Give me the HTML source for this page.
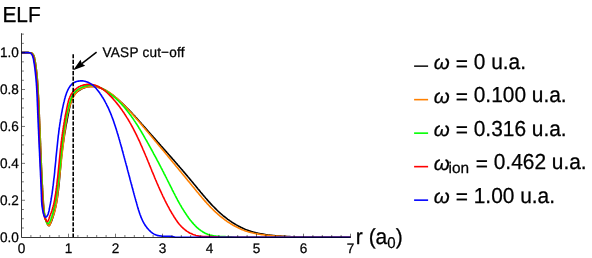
<!DOCTYPE html>
<html><head><meta charset="utf-8"><title>ELF</title>
<style>
html,body{margin:0;padding:0;background:#fff;}
body{width:592px;height:258px;overflow:hidden;font-family:"Liberation Sans",sans-serif;}
svg{display:block;will-change:transform;}
</style></head><body>
<svg width="592" height="258" viewBox="0 0 592 258">
<rect width="592" height="258" fill="#ffffff"/>
<g fill="none" stroke-width="1.6" stroke-linejoin="round" stroke-linecap="butt">
<path stroke="#000000" d="M21.5 52.6 L21.7 52.6 L22.0 52.6 L22.2 52.6 L22.5 52.6 L22.7 52.6 L23.0 52.6 L23.2 52.6 L23.5 52.6 L23.7 52.6 L23.9 52.6 L24.2 52.6 L24.4 52.6 L24.7 52.6 L24.9 52.6 L25.2 52.6 L25.4 52.6 L25.7 52.6 L25.9 52.6 L26.2 52.6 L26.4 52.6 L26.6 52.6 L26.9 52.6 L27.1 52.6 L27.4 52.6 L27.6 52.6 L27.9 52.6 L28.1 52.6 L28.4 52.6 L28.6 52.6 L28.8 52.6 L29.1 52.6 L29.3 52.7 L29.6 52.7 L29.8 52.7 L30.1 52.7 L30.3 52.7 L30.6 52.8 L30.8 52.8 L31.1 52.8 L31.3 52.9 L31.5 53.0 L31.8 53.2 L32.0 53.3 L32.3 53.5 L32.5 53.7 L32.8 54.0 L33.0 54.3 L33.3 54.7 L33.5 55.1 L33.7 55.5 L34.0 56.1 L34.2 56.9 L34.5 57.8 L34.7 58.9 L35.0 60.2 L35.2 61.7 L35.5 63.2 L35.7 64.8 L36.0 66.5 L36.1 67.6 L36.2 68.7 L36.4 69.9 L36.5 71.0 L36.6 72.1 L36.8 73.2 L36.9 74.3 L37.0 75.5 L37.1 76.6 L37.2 77.7 L37.3 78.8 L37.4 80.0 L37.5 81.1 L37.5 82.2 L37.6 83.3 L37.7 84.5 L37.8 85.6 L37.8 86.7 L37.9 87.9 L38.0 89.0 L38.1 90.1 L38.1 91.2 L38.2 92.4 L38.2 93.5 L38.3 94.6 L38.4 95.8 L38.4 96.9 L38.5 98.0 L38.5 99.2 L38.6 100.3 L38.7 101.4 L38.7 102.6 L38.8 103.7 L38.8 104.8 L38.9 106.0 L38.9 107.1 L39.0 108.2 L39.0 109.4 L39.1 110.5 L39.1 111.6 L39.2 112.8 L39.2 113.9 L39.3 115.0 L39.3 116.2 L39.4 117.3 L39.4 118.4 L39.5 119.6 L39.5 120.7 L39.6 121.8 L39.6 123.0 L39.7 124.1 L39.7 125.2 L39.8 126.4 L39.8 127.5 L39.9 128.6 L39.9 129.8 L40.0 130.9 L40.0 132.0 L40.1 133.1 L40.1 134.3 L40.1 135.4 L40.2 136.5 L40.2 137.7 L40.3 138.8 L40.3 139.9 L40.4 141.1 L40.4 142.2 L40.5 143.3 L40.5 144.4 L40.5 145.6 L40.6 146.7 L40.6 147.8 L40.7 149.0 L40.7 150.1 L40.8 151.2 L40.8 152.3 L40.9 153.5 L40.9 154.6 L40.9 155.7 L41.0 156.8 L41.0 158.0 L41.1 159.1 L41.1 160.2 L41.2 161.3 L41.2 162.4 L41.3 163.6 L41.3 164.7 L41.4 165.8 L41.4 166.9 L41.5 168.1 L41.5 169.2 L41.6 170.3 L41.6 171.4 L41.7 172.6 L41.7 173.7 L41.8 174.8 L41.8 175.9 L41.9 177.1 L41.9 178.2 L42.0 179.3 L42.1 180.4 L42.1 181.6 L42.2 182.7 L42.2 183.8 L42.3 185.0 L42.4 186.1 L42.4 187.2 L42.5 188.4 L42.5 189.5 L42.6 190.6 L42.7 191.8 L42.7 192.9 L42.8 194.0 L42.9 195.2 L43.0 196.3 L43.0 197.5 L43.1 198.6 L43.2 199.8 L43.3 200.9 L43.3 202.1 L43.4 203.2 L43.5 204.4 L43.6 205.5 L43.7 206.7 L43.8 207.8 L43.9 209.0 L44.0 210.1 L44.1 211.2 L44.2 212.4 L44.4 213.5 L44.6 214.6 L44.8 215.7 L45.0 216.8 L45.3 217.9 L45.5 219.0 L45.9 220.0 L46.2 221.0 L46.6 222.0 L47.0 223.0 L47.4 224.0 L47.9 224.9 L48.5 225.5 L49.1 225.6 L49.7 225.0 L50.3 223.9 L50.8 222.7 L51.3 221.6 L51.8 220.4 L52.2 219.3 L52.6 218.2 L52.9 217.1 L53.3 216.0 L53.6 214.9 L53.9 213.8 L54.2 212.7 L54.5 211.6 L54.8 210.4 L55.1 209.3 L55.3 208.2 L55.6 207.1 L55.8 206.0 L56.1 204.9 L56.3 203.8 L56.5 202.6 L56.7 201.5 L56.9 200.4 L57.1 199.3 L57.3 198.2 L57.4 197.1 L57.6 195.9 L57.8 194.8 L57.9 193.7 L58.1 192.6 L58.2 191.5 L58.4 190.3 L58.5 189.2 L58.6 188.1 L58.7 187.0 L58.9 185.9 L59.0 184.7 L59.1 183.6 L59.2 182.5 L59.3 181.4 L59.4 180.3 L59.5 179.1 L59.6 178.0 L59.7 176.9 L59.8 175.8 L59.9 174.6 L60.0 173.5 L60.1 172.4 L60.2 171.3 L60.3 170.1 L60.4 169.0 L60.5 167.9 L60.6 166.8 L60.7 165.6 L60.8 164.5 L60.9 163.4 L61.0 162.3 L61.1 161.2 L61.2 160.0 L61.3 158.9 L61.4 157.8 L61.5 156.7 L61.7 155.5 L61.8 154.4 L61.9 153.3 L62.1 152.2 L62.2 151.1 L62.3 149.9 L62.5 148.8 L62.6 147.7 L62.8 146.6 L62.9 145.4 L63.1 144.3 L63.2 143.2 L63.4 142.1 L63.6 141.0 L63.7 139.8 L63.9 138.7 L64.1 137.6 L64.3 136.5 L64.4 135.4 L64.6 134.2 L64.8 133.1 L65.0 132.0 L65.2 130.9 L65.4 129.8 L65.6 128.7 L65.7 127.5 L65.9 126.4 L66.1 125.3 L66.3 124.2 L66.6 123.1 L66.8 122.0 L67.0 120.8 L67.2 119.7 L67.4 118.6 L67.6 117.5 L67.8 116.4 L68.1 115.3 L68.3 114.1 L68.5 113.0 L68.7 111.9 L69.0 110.8 L69.2 109.7 L69.4 108.6 L69.7 107.5 L69.9 106.4 L70.2 105.2 L70.4 104.1 L70.7 103.0 L71.0 102.0 L71.3 100.9 L71.7 99.8 L72.1 98.8 L72.5 97.8 L73.1 96.8 L73.6 95.9 L74.3 95.0 L75.0 94.1 L75.7 93.2 L76.5 92.4 L77.4 91.7 L78.3 91.0 L79.3 90.3 L80.3 89.7 L81.3 89.1 L82.3 88.6 L83.4 88.1 L84.5 87.7 L85.6 87.3 L86.7 87.0 L87.8 86.8 L88.9 86.6 L90.1 86.4 L91.2 86.4 L92.2 86.4 L93.3 86.4 L94.4 86.5 L95.5 86.6 L96.6 86.8 L97.6 87.1 L98.7 87.4 L99.7 87.7 L100.7 88.1 L101.8 88.5 L102.8 89.0 L103.8 89.5 L104.8 90.0 L105.8 90.5 L106.7 91.1 L107.7 91.7 L108.7 92.3 L109.6 93.0 L110.6 93.7 L111.5 94.3 L112.5 95.0 L113.4 95.7 L114.3 96.5 L115.2 97.2 L116.1 97.9 L117.0 98.7 L117.9 99.4 L118.7 100.2 L119.6 100.9 L120.4 101.7 L121.3 102.5 L122.1 103.2 L123.0 104.0 L123.8 104.8 L124.6 105.6 L125.4 106.4 L126.2 107.2 L127.0 108.0 L127.8 108.8 L128.6 109.6 L129.4 110.4 L130.2 111.2 L131.0 112.0 L131.7 112.8 L132.5 113.7 L133.3 114.5 L134.0 115.3 L134.8 116.1 L135.5 117.0 L136.3 117.8 L137.0 118.6 L137.8 119.5 L138.5 120.3 L139.3 121.2 L140.0 122.0 L140.8 122.9 L141.5 123.7 L142.3 124.5 L143.0 125.4 L143.7 126.2 L144.5 127.1 L145.2 127.9 L146.0 128.8 L146.7 129.6 L147.5 130.5 L148.2 131.3 L149.0 132.2 L149.7 133.0 L150.4 133.8 L151.2 134.7 L151.9 135.5 L152.7 136.4 L153.4 137.2 L154.2 138.1 L154.9 138.9 L155.7 139.8 L156.4 140.6 L157.2 141.5 L157.9 142.3 L158.7 143.1 L159.4 144.0 L160.2 144.8 L160.9 145.7 L161.7 146.5 L162.4 147.4 L163.2 148.2 L163.9 149.1 L164.7 149.9 L165.4 150.8 L166.2 151.6 L166.9 152.5 L167.7 153.3 L168.4 154.2 L169.2 155.0 L169.9 155.9 L170.7 156.7 L171.4 157.6 L172.2 158.4 L172.9 159.3 L173.7 160.1 L174.4 161.0 L175.1 161.8 L175.9 162.7 L176.6 163.5 L177.4 164.4 L178.1 165.3 L178.9 166.1 L179.6 167.0 L180.3 167.8 L181.1 168.7 L181.8 169.5 L182.6 170.4 L183.3 171.3 L184.0 172.1 L184.8 173.0 L185.5 173.9 L186.2 174.7 L187.0 175.6 L187.7 176.5 L188.4 177.3 L189.2 178.2 L189.9 179.1 L190.6 179.9 L191.3 180.8 L192.1 181.7 L192.8 182.5 L193.5 183.4 L194.2 184.3 L195.0 185.2 L195.7 186.0 L196.4 186.9 L197.1 187.8 L197.8 188.7 L198.5 189.5 L199.3 190.4 L200.0 191.3 L200.7 192.2 L201.4 193.0 L202.2 193.9 L202.9 194.8 L203.6 195.6 L204.3 196.5 L205.1 197.3 L205.8 198.2 L206.6 199.0 L207.3 199.9 L208.0 200.7 L208.8 201.6 L209.6 202.4 L210.3 203.2 L211.1 204.1 L211.8 204.9 L212.6 205.7 L213.4 206.5 L214.2 207.3 L215.0 208.1 L215.8 208.9 L216.6 209.7 L217.4 210.5 L218.2 211.3 L219.0 212.0 L219.9 212.8 L220.7 213.5 L221.6 214.3 L222.4 215.0 L223.3 215.8 L224.2 216.5 L225.1 217.2 L226.0 217.9 L226.9 218.6 L227.8 219.3 L228.7 219.9 L229.6 220.6 L230.5 221.2 L231.5 221.9 L232.4 222.5 L233.4 223.1 L234.4 223.7 L235.3 224.3 L236.3 224.9 L237.3 225.4 L238.3 226.0 L239.3 226.5 L240.3 227.0 L241.3 227.5 L242.4 228.0 L243.4 228.5 L244.4 228.9 L245.5 229.4 L246.5 229.8 L247.6 230.2 L248.6 230.6 L249.7 230.9 L250.8 231.3 L251.8 231.6 L252.9 231.9 L254.0 232.2 L255.1 232.5 L256.2 232.8 L257.3 233.0 L258.4 233.3 L259.5 233.5 L260.6 233.7 L261.7 233.9 L262.9 234.1 L264.0 234.3 L265.1 234.5 L266.2 234.7 L267.3 234.8 L268.5 235.0 L269.6 235.1 L270.7 235.3 L271.8 235.4 L273.0 235.5 L274.1 235.6 L275.2 235.7 L276.3 235.8 L277.5 235.9 L278.6 236.0 L279.7 236.1 L280.9 236.1 L282.0 236.2 L283.1 236.3 L284.2 236.4 L285.4 236.4 L286.5 236.5 L287.6 236.5 L288.8 236.6 L289.9 236.6 L291.0 236.7 L292.1 236.7 L293.3 236.8 L294.4 236.8 L295.5 236.9 L296.7 236.9 L297.8 237.0 L298.9 237.0 L300.1 237.0 L301.2 237.1 L302.3 237.1 L303.5 237.2 L350.5 237.2"/>
<path stroke="#ff8000" d="M21.5 52.6 L21.7 52.6 L22.0 52.6 L22.2 52.6 L22.5 52.6 L22.7 52.6 L23.0 52.6 L23.2 52.6 L23.5 52.6 L23.7 52.6 L23.9 52.6 L24.2 52.6 L24.4 52.6 L24.7 52.6 L24.9 52.6 L25.2 52.6 L25.4 52.6 L25.7 52.6 L25.9 52.6 L26.2 52.6 L26.4 52.6 L26.6 52.6 L26.9 52.6 L27.1 52.6 L27.4 52.6 L27.6 52.6 L27.9 52.6 L28.1 52.6 L28.4 52.6 L28.6 52.6 L28.8 52.6 L29.1 52.6 L29.3 52.7 L29.6 52.7 L29.8 52.7 L30.1 52.7 L30.3 52.7 L30.6 52.8 L30.8 52.8 L31.1 52.8 L31.3 52.9 L31.5 53.0 L31.8 53.2 L32.0 53.3 L32.3 53.5 L32.5 53.7 L32.8 54.0 L33.0 54.3 L33.3 54.7 L33.5 55.1 L33.7 55.5 L34.0 56.1 L34.2 56.9 L34.5 57.8 L34.7 58.9 L35.0 60.2 L35.2 61.7 L35.5 63.2 L35.7 64.8 L36.0 66.5 L36.1 67.6 L36.2 68.7 L36.4 69.9 L36.5 71.0 L36.6 72.1 L36.8 73.2 L36.9 74.4 L37.0 75.5 L37.1 76.6 L37.2 77.7 L37.3 78.9 L37.4 80.0 L37.5 81.1 L37.6 82.2 L37.6 83.4 L37.7 84.5 L37.8 85.6 L37.9 86.7 L37.9 87.9 L38.0 89.0 L38.1 90.1 L38.1 91.3 L38.2 92.4 L38.3 93.5 L38.3 94.6 L38.4 95.8 L38.4 96.9 L38.5 98.0 L38.6 99.2 L38.6 100.3 L38.7 101.4 L38.7 102.5 L38.8 103.7 L38.8 104.8 L38.9 105.9 L38.9 107.0 L39.0 108.2 L39.0 109.3 L39.1 110.4 L39.1 111.6 L39.2 112.7 L39.2 113.8 L39.3 114.9 L39.3 116.1 L39.4 117.2 L39.4 118.3 L39.5 119.4 L39.5 120.6 L39.6 121.7 L39.6 122.8 L39.7 123.9 L39.7 125.1 L39.8 126.2 L39.8 127.3 L39.8 128.5 L39.9 129.6 L39.9 130.7 L40.0 131.8 L40.0 133.0 L40.1 134.1 L40.1 135.2 L40.2 136.4 L40.2 137.5 L40.3 138.6 L40.3 139.7 L40.3 140.9 L40.4 142.0 L40.4 143.1 L40.5 144.3 L40.5 145.4 L40.6 146.5 L40.6 147.7 L40.7 148.8 L40.7 149.9 L40.8 151.1 L40.8 152.2 L40.8 153.3 L40.9 154.4 L40.9 155.6 L41.0 156.7 L41.0 157.8 L41.1 159.0 L41.1 160.1 L41.2 161.2 L41.2 162.4 L41.3 163.5 L41.3 164.6 L41.4 165.8 L41.4 166.9 L41.5 168.0 L41.5 169.2 L41.6 170.3 L41.6 171.4 L41.7 172.6 L41.8 173.7 L41.8 174.8 L41.9 175.9 L41.9 177.1 L42.0 178.2 L42.0 179.3 L42.1 180.4 L42.1 181.6 L42.2 182.7 L42.2 183.8 L42.3 184.9 L42.4 186.1 L42.4 187.2 L42.5 188.3 L42.5 189.4 L42.6 190.5 L42.7 191.7 L42.7 192.8 L42.8 193.9 L42.8 195.0 L42.9 196.1 L43.0 197.2 L43.0 198.4 L43.1 199.5 L43.2 200.6 L43.3 201.7 L43.4 202.8 L43.4 204.0 L43.5 205.1 L43.7 206.2 L43.8 207.3 L43.9 208.5 L44.0 209.6 L44.1 210.8 L44.3 211.9 L44.4 213.1 L44.6 214.2 L44.8 215.4 L45.0 216.5 L45.2 217.7 L45.5 218.8 L45.7 219.9 L46.1 220.9 L46.4 222.0 L46.8 223.0 L47.3 223.9 L47.8 224.8 L48.4 225.6 L49.1 225.8 L49.7 225.2 L50.2 224.1 L50.7 222.8 L51.1 221.6 L51.6 220.3 L52.0 219.2 L52.4 218.0 L52.8 216.9 L53.2 215.9 L53.6 214.8 L53.9 213.8 L54.3 212.8 L54.6 211.7 L54.9 210.7 L55.2 209.6 L55.4 208.6 L55.7 207.5 L55.9 206.4 L56.1 205.3 L56.3 204.2 L56.5 203.1 L56.7 202.0 L56.9 200.9 L57.1 199.8 L57.2 198.6 L57.4 197.5 L57.5 196.4 L57.6 195.2 L57.8 194.1 L57.9 193.0 L58.0 191.8 L58.1 190.7 L58.2 189.5 L58.4 188.4 L58.5 187.3 L58.6 186.1 L58.7 185.0 L58.8 183.8 L59.0 182.7 L59.1 181.6 L59.2 180.5 L59.3 179.3 L59.4 178.2 L59.6 177.1 L59.7 175.9 L59.8 174.8 L59.9 173.7 L60.0 172.6 L60.2 171.5 L60.3 170.3 L60.4 169.2 L60.5 168.1 L60.7 167.0 L60.8 165.9 L60.9 164.7 L61.0 163.6 L61.2 162.5 L61.3 161.4 L61.4 160.3 L61.5 159.2 L61.7 158.0 L61.8 156.9 L61.9 155.8 L62.0 154.7 L62.2 153.6 L62.3 152.5 L62.4 151.3 L62.6 150.2 L62.7 149.1 L62.8 148.0 L63.0 146.9 L63.1 145.8 L63.2 144.7 L63.4 143.5 L63.5 142.4 L63.6 141.3 L63.8 140.2 L63.9 139.1 L64.0 138.0 L64.2 136.8 L64.3 135.7 L64.4 134.6 L64.6 133.5 L64.7 132.3 L64.9 131.2 L65.0 130.1 L65.2 129.0 L65.3 127.9 L65.5 126.7 L65.6 125.6 L65.8 124.5 L66.0 123.4 L66.1 122.2 L66.3 121.1 L66.5 120.0 L66.7 118.9 L66.9 117.8 L67.1 116.7 L67.3 115.6 L67.6 114.4 L67.8 113.3 L68.1 112.2 L68.4 111.1 L68.6 110.0 L68.9 108.9 L69.2 107.8 L69.6 106.8 L69.9 105.7 L70.3 104.6 L70.6 103.5 L71.0 102.4 L71.4 101.4 L71.9 100.3 L72.3 99.3 L72.8 98.2 L73.3 97.2 L73.8 96.2 L74.4 95.2 L75.0 94.3 L75.6 93.4 L76.4 92.6 L77.1 91.8 L77.9 91.0 L78.8 90.4 L79.7 89.7 L80.7 89.2 L81.7 88.7 L82.7 88.2 L83.8 87.8 L84.9 87.5 L86.0 87.2 L87.2 87.0 L88.3 86.8 L89.5 86.6 L90.6 86.6 L91.8 86.5 L92.9 86.6 L94.0 86.6 L95.2 86.7 L96.3 86.9 L97.3 87.1 L98.4 87.4 L99.5 87.7 L100.5 88.0 L101.6 88.4 L102.6 88.8 L103.6 89.2 L104.6 89.7 L105.6 90.2 L106.5 90.7 L107.5 91.3 L108.5 91.9 L109.4 92.5 L110.3 93.1 L111.3 93.8 L112.2 94.5 L113.1 95.2 L114.0 95.9 L114.8 96.6 L115.7 97.4 L116.6 98.1 L117.5 98.9 L118.3 99.7 L119.2 100.5 L120.0 101.3 L120.8 102.1 L121.6 102.9 L122.5 103.7 L123.3 104.5 L124.1 105.3 L124.9 106.1 L125.7 106.9 L126.5 107.8 L127.3 108.6 L128.0 109.4 L128.8 110.2 L129.6 111.1 L130.3 111.9 L131.1 112.7 L131.9 113.6 L132.6 114.4 L133.4 115.3 L134.1 116.1 L134.9 116.9 L135.6 117.8 L136.3 118.6 L137.1 119.5 L137.8 120.3 L138.6 121.2 L139.3 122.0 L140.0 122.9 L140.7 123.7 L141.5 124.6 L142.2 125.4 L142.9 126.3 L143.6 127.2 L144.4 128.0 L145.1 128.9 L145.8 129.7 L146.5 130.6 L147.3 131.5 L148.0 132.3 L148.7 133.2 L149.4 134.0 L150.2 134.9 L150.9 135.8 L151.6 136.6 L152.3 137.5 L153.0 138.3 L153.8 139.2 L154.5 140.1 L155.2 140.9 L155.9 141.8 L156.7 142.7 L157.4 143.5 L158.1 144.4 L158.8 145.3 L159.5 146.1 L160.3 147.0 L161.0 147.9 L161.7 148.7 L162.4 149.6 L163.2 150.5 L163.9 151.3 L164.6 152.2 L165.3 153.1 L166.0 154.0 L166.8 154.8 L167.5 155.7 L168.2 156.6 L168.9 157.4 L169.6 158.3 L170.4 159.2 L171.1 160.1 L171.8 160.9 L172.5 161.8 L173.2 162.7 L174.0 163.5 L174.7 164.4 L175.4 165.3 L176.1 166.2 L176.8 167.0 L177.6 167.9 L178.3 168.8 L179.0 169.7 L179.7 170.5 L180.4 171.4 L181.2 172.3 L181.9 173.2 L182.6 174.0 L183.3 174.9 L184.0 175.8 L184.8 176.7 L185.5 177.6 L186.2 178.4 L186.9 179.3 L187.6 180.2 L188.3 181.1 L189.1 181.9 L189.8 182.8 L190.5 183.7 L191.2 184.6 L191.9 185.5 L192.6 186.3 L193.4 187.2 L194.1 188.1 L194.8 189.0 L195.5 189.8 L196.2 190.7 L196.9 191.6 L197.7 192.5 L198.4 193.3 L199.1 194.2 L199.8 195.1 L200.6 195.9 L201.3 196.8 L202.0 197.7 L202.8 198.5 L203.5 199.4 L204.2 200.2 L205.0 201.1 L205.7 201.9 L206.5 202.8 L207.2 203.6 L208.0 204.4 L208.8 205.2 L209.5 206.1 L210.3 206.9 L211.1 207.7 L211.9 208.5 L212.7 209.3 L213.5 210.1 L214.3 210.9 L215.1 211.6 L215.9 212.4 L216.8 213.2 L217.6 213.9 L218.4 214.6 L219.3 215.4 L220.1 216.1 L221.0 216.8 L221.9 217.5 L222.8 218.2 L223.7 218.9 L224.6 219.6 L225.5 220.3 L226.4 220.9 L227.3 221.6 L228.3 222.2 L229.2 222.8 L230.2 223.4 L231.1 224.0 L232.1 224.6 L233.1 225.2 L234.1 225.7 L235.1 226.3 L236.1 226.8 L237.1 227.3 L238.1 227.8 L239.1 228.3 L240.2 228.8 L241.2 229.2 L242.2 229.7 L243.3 230.1 L244.3 230.5 L245.4 230.9 L246.5 231.2 L247.5 231.6 L248.6 231.9 L249.7 232.2 L250.8 232.5 L251.9 232.8 L253.0 233.0 L254.1 233.3 L255.2 233.5 L256.3 233.7 L257.4 233.9 L258.5 234.1 L259.7 234.3 L260.8 234.5 L261.9 234.6 L263.0 234.8 L264.1 234.9 L265.3 235.1 L266.4 235.2 L267.5 235.3 L268.7 235.4 L269.8 235.5 L270.9 235.6 L272.0 235.7 L273.2 235.8 L274.3 235.9 L275.4 236.0 L276.5 236.0 L277.7 236.1 L278.8 236.2 L279.9 236.3 L281.0 236.3 L282.2 236.4 L283.3 236.5 L284.4 236.5 L285.5 236.6 L286.7 236.6 L287.8 236.7 L288.9 236.7 L290.0 236.8 L291.2 236.8 L292.3 236.9 L293.4 236.9 L294.5 237.0 L295.7 237.0 L296.8 237.0 L297.9 237.1 L299.1 237.1 L300.2 237.2 L301.4 237.2 L350.5 237.2"/>
<path stroke="#00ff00" d="M21.5 52.6 L21.7 52.6 L22.0 52.6 L22.2 52.6 L22.5 52.6 L22.7 52.6 L22.9 52.6 L23.2 52.6 L23.4 52.6 L23.7 52.6 L23.9 52.6 L24.1 52.6 L24.4 52.6 L24.6 52.6 L24.8 52.6 L25.1 52.6 L25.3 52.6 L25.6 52.6 L25.8 52.6 L26.0 52.6 L26.3 52.6 L26.5 52.6 L26.8 52.6 L27.0 52.6 L27.2 52.6 L27.5 52.6 L27.7 52.6 L28.0 52.6 L28.2 52.6 L28.4 52.6 L28.7 52.6 L28.9 52.6 L29.1 52.7 L29.4 52.7 L29.6 52.7 L29.9 52.7 L30.1 52.7 L30.3 52.8 L30.6 52.8 L30.8 52.8 L31.1 52.9 L31.3 53.1 L31.5 53.2 L31.8 53.4 L32.0 53.6 L32.3 53.8 L32.5 54.1 L32.7 54.4 L33.0 54.8 L33.2 55.2 L33.4 55.6 L33.7 56.2 L33.9 57.0 L34.2 58.0 L34.4 59.0 L34.6 60.3 L34.9 61.8 L35.1 63.3 L35.4 64.8 L35.6 66.5 L35.7 67.5 L35.9 68.5 L36.0 69.6 L36.1 70.6 L36.3 71.6 L36.4 72.6 L36.5 73.6 L36.6 74.7 L36.7 75.7 L36.8 76.7 L36.9 77.7 L37.0 78.7 L37.1 79.8 L37.2 80.8 L37.3 81.8 L37.4 82.8 L37.5 83.8 L37.6 84.9 L37.7 85.9 L37.7 86.9 L37.8 87.9 L37.9 89.0 L37.9 90.0 L38.0 91.0 L38.1 92.0 L38.1 93.1 L38.2 94.1 L38.2 95.1 L38.3 96.1 L38.3 97.2 L38.4 98.2 L38.4 99.2 L38.5 100.3 L38.5 101.3 L38.6 102.3 L38.6 103.3 L38.6 104.4 L38.7 105.4 L38.7 106.4 L38.8 107.5 L38.8 108.5 L38.8 109.5 L38.9 110.5 L38.9 111.6 L38.9 112.6 L38.9 113.6 L39.0 114.7 L39.0 115.7 L39.0 116.7 L39.1 117.8 L39.1 118.8 L39.1 119.8 L39.2 120.8 L39.2 121.9 L39.2 122.9 L39.2 123.9 L39.3 125.0 L39.3 126.0 L39.3 127.0 L39.4 128.1 L39.4 129.1 L39.4 130.1 L39.5 131.2 L39.5 132.2 L39.5 133.2 L39.6 134.2 L39.6 135.3 L39.6 136.3 L39.7 137.3 L39.7 138.4 L39.8 139.4 L39.8 140.4 L39.8 141.5 L39.9 142.5 L39.9 143.5 L40.0 144.6 L40.0 145.6 L40.1 146.6 L40.1 147.7 L40.2 148.7 L40.2 149.7 L40.3 150.7 L40.3 151.8 L40.4 152.8 L40.4 153.8 L40.5 154.9 L40.5 155.9 L40.6 156.9 L40.6 158.0 L40.7 159.0 L40.8 160.0 L40.8 161.0 L40.9 162.1 L40.9 163.1 L41.0 164.1 L41.0 165.1 L41.1 166.2 L41.1 167.2 L41.2 168.2 L41.3 169.3 L41.3 170.3 L41.4 171.3 L41.4 172.3 L41.5 173.4 L41.5 174.4 L41.6 175.4 L41.6 176.4 L41.7 177.4 L41.7 178.5 L41.8 179.5 L41.9 180.5 L41.9 181.5 L42.0 182.5 L42.0 183.6 L42.1 184.6 L42.1 185.6 L42.2 186.6 L42.2 187.6 L42.3 188.7 L42.3 189.7 L42.3 190.7 L42.4 191.7 L42.4 192.7 L42.5 193.7 L42.5 194.7 L42.6 195.8 L42.6 196.8 L42.7 197.8 L42.7 198.8 L42.8 199.8 L42.8 200.8 L42.9 201.9 L43.0 202.9 L43.1 203.9 L43.2 205.0 L43.3 206.0 L43.4 207.0 L43.5 208.1 L43.6 209.1 L43.7 210.2 L43.9 211.2 L44.0 212.3 L44.2 213.3 L44.4 214.4 L44.6 215.5 L44.8 216.6 L45.0 217.6 L45.3 218.7 L45.6 219.7 L45.9 220.7 L46.3 221.6 L46.7 222.4 L47.2 223.1 L47.7 223.6 L48.3 223.5 L48.8 223.0 L49.4 222.2 L49.9 221.3 L50.4 220.3 L50.8 219.3 L51.2 218.2 L51.5 217.2 L51.9 216.2 L52.2 215.2 L52.5 214.2 L52.7 213.2 L53.0 212.2 L53.2 211.2 L53.5 210.2 L53.7 209.2 L53.9 208.2 L54.2 207.2 L54.4 206.2 L54.6 205.2 L54.8 204.2 L55.0 203.2 L55.2 202.2 L55.4 201.2 L55.6 200.1 L55.8 199.1 L56.0 198.1 L56.1 197.1 L56.3 196.1 L56.5 195.1 L56.6 194.1 L56.8 193.0 L56.9 192.0 L57.1 191.0 L57.2 190.0 L57.4 189.0 L57.5 188.0 L57.7 186.9 L57.8 185.9 L57.9 184.9 L58.1 183.9 L58.2 182.9 L58.3 181.8 L58.4 180.8 L58.6 179.8 L58.7 178.8 L58.8 177.8 L58.9 176.7 L59.0 175.7 L59.1 174.7 L59.2 173.7 L59.3 172.7 L59.5 171.6 L59.6 170.6 L59.7 169.6 L59.8 168.6 L59.9 167.5 L60.0 166.5 L60.1 165.5 L60.2 164.5 L60.3 163.4 L60.4 162.4 L60.5 161.4 L60.6 160.4 L60.7 159.3 L60.8 158.3 L60.8 157.3 L60.9 156.3 L61.0 155.3 L61.1 154.2 L61.2 153.2 L61.4 152.2 L61.5 151.2 L61.6 150.1 L61.7 149.1 L61.8 148.1 L61.9 147.1 L62.0 146.0 L62.1 145.0 L62.2 144.0 L62.3 143.0 L62.4 142.0 L62.6 140.9 L62.7 139.9 L62.8 138.9 L62.9 137.9 L63.1 136.8 L63.2 135.8 L63.3 134.8 L63.5 133.8 L63.6 132.8 L63.7 131.7 L63.9 130.7 L64.0 129.7 L64.2 128.7 L64.3 127.7 L64.5 126.7 L64.7 125.6 L64.8 124.6 L65.0 123.6 L65.2 122.6 L65.4 121.6 L65.6 120.6 L65.7 119.6 L65.9 118.5 L66.1 117.5 L66.3 116.5 L66.6 115.5 L66.8 114.5 L67.0 113.5 L67.2 112.5 L67.4 111.5 L67.7 110.5 L67.9 109.5 L68.2 108.5 L68.4 107.5 L68.7 106.5 L68.9 105.5 L69.2 104.5 L69.5 103.5 L69.8 102.5 L70.1 101.5 L70.4 100.5 L70.7 99.5 L71.0 98.5 L71.4 97.6 L71.7 96.6 L72.2 95.7 L72.7 94.8 L73.2 94.0 L73.8 93.2 L74.5 92.4 L75.2 91.7 L75.9 91.0 L76.7 90.3 L77.5 89.7 L78.4 89.1 L79.3 88.6 L80.2 88.1 L81.1 87.6 L82.1 87.2 L83.1 86.8 L84.1 86.4 L85.1 86.1 L86.1 85.8 L87.1 85.6 L88.1 85.4 L89.1 85.2 L90.1 85.1 L91.1 85.1 L92.1 85.1 L93.1 85.2 L94.1 85.3 L95.1 85.5 L96.1 85.8 L97.1 86.2 L98.0 86.5 L99.0 86.9 L99.9 87.4 L100.9 87.9 L101.8 88.4 L102.7 88.9 L103.6 89.4 L104.5 90.0 L105.4 90.5 L106.2 91.1 L107.1 91.7 L108.0 92.3 L108.8 92.9 L109.6 93.5 L110.5 94.1 L111.3 94.7 L112.1 95.4 L112.9 96.0 L113.7 96.7 L114.4 97.3 L115.2 98.0 L116.0 98.7 L116.7 99.4 L117.5 100.1 L118.2 100.8 L118.9 101.5 L119.6 102.2 L120.4 103.0 L121.1 103.7 L121.8 104.4 L122.4 105.2 L123.1 106.0 L123.8 106.7 L124.5 107.5 L125.1 108.3 L125.8 109.1 L126.4 109.9 L127.1 110.7 L127.7 111.5 L128.3 112.3 L129.0 113.1 L129.6 113.9 L130.2 114.7 L130.8 115.5 L131.4 116.4 L132.0 117.2 L132.6 118.1 L133.2 118.9 L133.8 119.8 L134.3 120.6 L134.9 121.5 L135.5 122.3 L136.0 123.2 L136.6 124.1 L137.2 124.9 L137.7 125.8 L138.3 126.7 L138.8 127.6 L139.3 128.5 L139.9 129.3 L140.4 130.2 L141.0 131.1 L141.5 132.0 L142.0 132.9 L142.5 133.8 L143.1 134.7 L143.6 135.6 L144.1 136.5 L144.6 137.4 L145.1 138.3 L145.6 139.2 L146.2 140.1 L146.7 141.0 L147.2 141.9 L147.7 142.8 L148.2 143.7 L148.7 144.6 L149.2 145.5 L149.7 146.4 L150.2 147.3 L150.7 148.2 L151.2 149.1 L151.7 150.0 L152.2 150.9 L152.7 151.8 L153.2 152.7 L153.6 153.6 L154.1 154.5 L154.6 155.4 L155.1 156.3 L155.6 157.2 L156.1 158.1 L156.6 159.0 L157.0 159.9 L157.5 160.8 L158.0 161.7 L158.5 162.6 L159.0 163.5 L159.4 164.5 L159.9 165.4 L160.4 166.3 L160.9 167.2 L161.3 168.1 L161.8 169.0 L162.3 169.9 L162.7 170.8 L163.2 171.7 L163.7 172.6 L164.1 173.6 L164.6 174.5 L165.1 175.4 L165.5 176.3 L166.0 177.2 L166.5 178.1 L166.9 179.0 L167.4 180.0 L167.8 180.9 L168.3 181.8 L168.8 182.7 L169.2 183.6 L169.7 184.5 L170.1 185.5 L170.6 186.4 L171.1 187.3 L171.5 188.2 L172.0 189.1 L172.4 190.1 L172.9 191.0 L173.4 191.9 L173.8 192.8 L174.3 193.7 L174.8 194.6 L175.2 195.5 L175.7 196.5 L176.2 197.4 L176.7 198.3 L177.2 199.2 L177.6 200.1 L178.1 201.0 L178.6 201.9 L179.1 202.8 L179.6 203.7 L180.1 204.6 L180.7 205.5 L181.2 206.4 L181.7 207.3 L182.2 208.2 L182.8 209.0 L183.3 209.9 L183.9 210.8 L184.4 211.7 L185.0 212.5 L185.6 213.4 L186.1 214.3 L186.7 215.1 L187.3 216.0 L187.9 216.8 L188.5 217.7 L189.1 218.5 L189.8 219.4 L190.4 220.2 L191.1 221.0 L191.7 221.8 L192.4 222.6 L193.1 223.4 L193.8 224.2 L194.5 224.9 L195.2 225.7 L195.9 226.4 L196.6 227.1 L197.4 227.8 L198.1 228.4 L198.9 229.1 L199.7 229.7 L200.5 230.3 L201.3 230.9 L202.2 231.4 L203.0 232.0 L203.9 232.5 L204.8 233.0 L205.7 233.4 L206.6 233.8 L207.5 234.2 L208.4 234.6 L209.4 234.9 L210.4 235.2 L211.4 235.4 L212.4 235.6 L213.4 235.8 L214.5 236.0 L215.5 236.1 L216.6 236.3 L217.7 236.3 L218.7 236.4 L219.8 236.5 L220.9 236.5 L222.0 236.6 L223.0 236.6 L224.1 236.6 L225.2 236.6 L226.2 236.7 L227.3 236.7 L228.3 236.7 L229.3 236.8 L230.3 236.8 L231.3 236.9 L232.3 237.0 L233.2 237.1 L234.1 237.2 L350.5 237.2"/>
<path stroke="#ff0000" d="M21.5 52.6 L21.7 52.6 L22.0 52.6 L22.2 52.6 L22.4 52.6 L22.7 52.6 L22.9 52.6 L23.1 52.6 L23.4 52.6 L23.6 52.6 L23.8 52.6 L24.1 52.6 L24.3 52.6 L24.5 52.6 L24.8 52.6 L25.0 52.6 L25.2 52.6 L25.4 52.6 L25.7 52.6 L25.9 52.6 L26.1 52.6 L26.4 52.6 L26.6 52.6 L26.8 52.6 L27.1 52.6 L27.3 52.6 L27.5 52.6 L27.8 52.6 L28.0 52.6 L28.2 52.6 L28.5 52.6 L28.7 52.7 L28.9 52.7 L29.2 52.7 L29.4 52.7 L29.6 52.7 L29.9 52.8 L30.1 52.8 L30.3 52.8 L30.6 52.9 L30.8 53.0 L31.0 53.1 L31.3 53.3 L31.5 53.5 L31.7 53.7 L31.9 53.9 L32.2 54.2 L32.4 54.5 L32.6 54.9 L32.9 55.3 L33.1 55.8 L33.3 56.4 L33.6 57.2 L33.8 58.1 L34.0 59.2 L34.3 60.5 L34.5 61.9 L34.7 63.4 L35.0 64.9 L35.2 66.5 L35.3 67.5 L35.5 68.5 L35.6 69.5 L35.7 70.5 L35.9 71.5 L36.0 72.5 L36.1 73.5 L36.2 74.5 L36.3 75.5 L36.4 76.5 L36.5 77.5 L36.6 78.5 L36.7 79.5 L36.8 80.5 L36.9 81.5 L37.0 82.5 L37.0 83.5 L37.1 84.5 L37.2 85.5 L37.3 86.5 L37.3 87.5 L37.4 88.5 L37.5 89.5 L37.5 90.6 L37.6 91.6 L37.7 92.6 L37.7 93.6 L37.8 94.6 L37.8 95.6 L37.9 96.6 L37.9 97.6 L38.0 98.6 L38.0 99.6 L38.1 100.6 L38.1 101.6 L38.1 102.6 L38.2 103.7 L38.2 104.7 L38.3 105.7 L38.3 106.7 L38.3 107.7 L38.4 108.7 L38.4 109.7 L38.4 110.7 L38.5 111.7 L38.5 112.7 L38.5 113.7 L38.6 114.7 L38.6 115.8 L38.6 116.8 L38.7 117.8 L38.7 118.8 L38.7 119.8 L38.7 120.8 L38.8 121.8 L38.8 122.8 L38.8 123.8 L38.9 124.8 L38.9 125.8 L38.9 126.8 L39.0 127.8 L39.0 128.8 L39.1 129.8 L39.1 130.8 L39.1 131.9 L39.2 132.9 L39.2 133.9 L39.2 134.9 L39.3 135.9 L39.3 136.9 L39.3 137.9 L39.4 138.9 L39.4 139.9 L39.5 140.9 L39.5 141.9 L39.5 142.9 L39.6 143.9 L39.6 144.9 L39.7 145.9 L39.7 146.9 L39.8 147.9 L39.8 148.9 L39.8 149.9 L39.9 150.9 L39.9 151.9 L40.0 152.9 L40.0 153.9 L40.1 155.0 L40.1 156.0 L40.2 157.0 L40.2 158.0 L40.3 159.0 L40.3 160.0 L40.3 161.0 L40.4 162.0 L40.4 163.0 L40.5 164.0 L40.5 165.0 L40.6 166.0 L40.6 167.0 L40.7 168.0 L40.7 169.0 L40.8 170.0 L40.8 171.0 L40.9 172.0 L41.0 173.0 L41.0 174.0 L41.1 175.1 L41.1 176.1 L41.2 177.1 L41.2 178.1 L41.3 179.1 L41.3 180.1 L41.4 181.1 L41.4 182.1 L41.5 183.1 L41.6 184.1 L41.6 185.1 L41.7 186.1 L41.7 187.1 L41.8 188.2 L41.9 189.2 L41.9 190.2 L42.0 191.2 L42.0 192.2 L42.1 193.2 L42.2 194.2 L42.2 195.2 L42.3 196.2 L42.4 197.2 L42.4 198.3 L42.5 199.3 L42.5 200.3 L42.6 201.3 L42.7 202.3 L42.7 203.3 L42.8 204.3 L42.9 205.4 L42.9 206.4 L43.0 207.4 L43.1 208.4 L43.1 209.4 L43.2 210.4 L43.3 211.4 L43.4 212.4 L43.6 213.4 L43.7 214.4 L43.9 215.4 L44.2 216.3 L44.5 217.2 L44.8 218.1 L45.2 219.0 L45.7 219.8 L46.3 220.7 L46.9 221.4 L47.5 221.6 L48.1 221.0 L48.5 220.0 L49.0 218.8 L49.4 217.6 L49.7 216.5 L50.1 215.5 L50.5 214.5 L50.8 213.6 L51.2 212.7 L51.5 211.8 L51.8 210.9 L52.1 209.9 L52.4 209.0 L52.7 208.1 L52.9 207.1 L53.2 206.2 L53.4 205.2 L53.7 204.2 L53.9 203.3 L54.1 202.3 L54.3 201.3 L54.5 200.3 L54.7 199.3 L54.8 198.3 L55.0 197.3 L55.2 196.3 L55.3 195.3 L55.5 194.3 L55.7 193.3 L55.8 192.3 L55.9 191.2 L56.1 190.2 L56.2 189.2 L56.3 188.2 L56.5 187.2 L56.6 186.2 L56.7 185.2 L56.9 184.2 L57.0 183.2 L57.1 182.2 L57.2 181.2 L57.3 180.1 L57.4 179.1 L57.6 178.1 L57.7 177.1 L57.8 176.1 L57.9 175.1 L58.0 174.1 L58.1 173.1 L58.2 172.1 L58.3 171.1 L58.4 170.1 L58.5 169.1 L58.6 168.1 L58.7 167.1 L58.8 166.1 L58.9 165.1 L59.0 164.1 L59.1 163.1 L59.2 162.1 L59.3 161.1 L59.4 160.1 L59.5 159.1 L59.6 158.1 L59.7 157.1 L59.8 156.2 L59.9 155.2 L60.0 154.2 L60.1 153.2 L60.2 152.2 L60.3 151.2 L60.4 150.2 L60.5 149.2 L60.6 148.2 L60.8 147.2 L60.9 146.2 L61.0 145.2 L61.1 144.2 L61.2 143.2 L61.3 142.2 L61.4 141.2 L61.6 140.2 L61.7 139.2 L61.8 138.2 L61.9 137.2 L62.1 136.2 L62.2 135.2 L62.3 134.2 L62.5 133.2 L62.6 132.2 L62.8 131.2 L62.9 130.2 L63.1 129.2 L63.2 128.2 L63.4 127.2 L63.5 126.2 L63.7 125.2 L63.9 124.2 L64.0 123.2 L64.2 122.2 L64.4 121.2 L64.5 120.2 L64.7 119.2 L64.9 118.2 L65.1 117.2 L65.2 116.2 L65.4 115.2 L65.6 114.2 L65.8 113.3 L66.0 112.3 L66.2 111.3 L66.4 110.3 L66.6 109.3 L66.8 108.3 L67.0 107.3 L67.2 106.3 L67.4 105.3 L67.6 104.4 L67.8 103.4 L68.1 102.4 L68.3 101.5 L68.6 100.5 L68.9 99.5 L69.2 98.6 L69.6 97.7 L69.9 96.8 L70.4 95.9 L70.8 95.0 L71.3 94.1 L71.9 93.3 L72.5 92.4 L73.1 91.6 L73.8 90.9 L74.5 90.1 L75.2 89.4 L76.0 88.8 L76.8 88.1 L77.7 87.6 L78.5 87.0 L79.4 86.6 L80.4 86.1 L81.3 85.7 L82.3 85.4 L83.3 85.1 L84.3 84.9 L85.3 84.7 L86.3 84.5 L87.3 84.4 L88.3 84.4 L89.3 84.4 L90.3 84.4 L91.3 84.5 L92.2 84.6 L93.2 84.8 L94.1 85.0 L95.1 85.3 L96.0 85.6 L96.9 85.9 L97.8 86.3 L98.6 86.7 L99.5 87.2 L100.4 87.7 L101.2 88.2 L102.0 88.7 L102.9 89.3 L103.7 89.9 L104.5 90.5 L105.3 91.1 L106.1 91.8 L106.8 92.5 L107.6 93.2 L108.3 93.9 L109.1 94.6 L109.8 95.4 L110.5 96.1 L111.3 96.9 L112.0 97.6 L112.7 98.4 L113.4 99.2 L114.0 99.9 L114.7 100.7 L115.4 101.5 L116.0 102.3 L116.7 103.1 L117.3 103.9 L118.0 104.7 L118.6 105.5 L119.2 106.3 L119.8 107.1 L120.4 107.9 L121.0 108.7 L121.6 109.5 L122.2 110.4 L122.7 111.2 L123.3 112.0 L123.9 112.8 L124.4 113.7 L125.0 114.5 L125.5 115.4 L126.1 116.2 L126.6 117.1 L127.1 117.9 L127.7 118.8 L128.2 119.6 L128.7 120.5 L129.2 121.3 L129.7 122.2 L130.2 123.1 L130.7 123.9 L131.2 124.8 L131.6 125.7 L132.1 126.5 L132.6 127.4 L133.1 128.3 L133.5 129.2 L134.0 130.1 L134.4 131.0 L134.9 131.9 L135.4 132.8 L135.8 133.6 L136.2 134.5 L136.7 135.4 L137.1 136.4 L137.6 137.3 L138.0 138.2 L138.4 139.1 L138.8 140.0 L139.3 140.9 L139.7 141.8 L140.1 142.7 L140.5 143.6 L140.9 144.6 L141.3 145.5 L141.7 146.4 L142.1 147.3 L142.5 148.2 L142.9 149.2 L143.3 150.1 L143.7 151.0 L144.1 151.9 L144.5 152.9 L144.9 153.8 L145.3 154.7 L145.7 155.7 L146.1 156.6 L146.5 157.5 L146.9 158.5 L147.2 159.4 L147.6 160.3 L148.0 161.3 L148.4 162.2 L148.8 163.1 L149.2 164.1 L149.5 165.0 L149.9 165.9 L150.3 166.9 L150.7 167.8 L151.1 168.8 L151.5 169.7 L151.8 170.6 L152.2 171.6 L152.6 172.5 L153.0 173.4 L153.4 174.4 L153.8 175.3 L154.2 176.2 L154.5 177.2 L154.9 178.1 L155.3 179.0 L155.7 180.0 L156.1 180.9 L156.5 181.8 L156.9 182.8 L157.3 183.7 L157.7 184.6 L158.1 185.5 L158.5 186.5 L158.9 187.4 L159.3 188.3 L159.7 189.2 L160.1 190.2 L160.6 191.1 L161.0 192.0 L161.4 192.9 L161.8 193.8 L162.3 194.7 L162.7 195.7 L163.1 196.6 L163.6 197.5 L164.0 198.4 L164.4 199.3 L164.9 200.2 L165.3 201.1 L165.8 202.0 L166.2 202.9 L166.7 203.8 L167.2 204.7 L167.6 205.6 L168.1 206.4 L168.6 207.3 L169.1 208.2 L169.5 209.1 L170.0 210.0 L170.5 210.8 L171.0 211.7 L171.5 212.6 L172.0 213.5 L172.6 214.3 L173.1 215.2 L173.6 216.0 L174.1 216.9 L174.7 217.7 L175.2 218.6 L175.8 219.4 L176.3 220.2 L176.9 221.1 L177.5 221.9 L178.1 222.7 L178.7 223.5 L179.3 224.2 L180.0 225.0 L180.7 225.7 L181.3 226.5 L182.0 227.2 L182.8 227.9 L183.5 228.6 L184.3 229.2 L185.1 229.9 L185.9 230.5 L186.7 231.1 L187.6 231.6 L188.4 232.2 L189.3 232.7 L190.2 233.2 L191.2 233.6 L192.1 234.0 L193.0 234.4 L194.0 234.8 L195.0 235.1 L195.9 235.4 L196.9 235.7 L197.9 235.9 L198.9 236.1 L199.9 236.2 L200.8 236.3 L201.8 236.4 L202.8 236.5 L203.8 236.5 L204.8 236.6 L205.8 236.6 L206.8 236.6 L207.8 236.6 L208.9 236.6 L209.9 236.6 L210.9 236.6 L211.9 236.6 L212.9 236.7 L213.9 236.7 L214.9 236.7 L215.9 236.8 L216.9 236.9 L217.9 237.0 L218.9 237.2 L350.5 237.2"/>
<path stroke="#0000ff" d="M21.5 52.6 L21.7 52.6 L21.9 52.6 L22.2 52.6 L22.4 52.6 L22.6 52.6 L22.8 52.6 L23.1 52.6 L23.3 52.6 L23.5 52.6 L23.7 52.6 L23.9 52.6 L24.2 52.6 L24.4 52.6 L24.6 52.6 L24.8 52.6 L25.1 52.6 L25.3 52.6 L25.5 52.6 L25.7 52.6 L25.9 52.6 L26.2 52.6 L26.4 52.6 L26.6 52.6 L26.8 52.6 L27.1 52.6 L27.3 52.6 L27.5 52.6 L27.7 52.6 L27.9 52.6 L28.2 52.6 L28.4 52.7 L28.6 52.7 L28.8 52.7 L29.0 52.7 L29.3 52.8 L29.5 52.8 L29.7 52.8 L29.9 52.9 L30.2 53.0 L30.4 53.1 L30.6 53.3 L30.8 53.4 L31.0 53.6 L31.3 53.8 L31.5 54.1 L31.7 54.4 L31.9 54.7 L32.2 55.1 L32.4 55.5 L32.6 56.0 L32.8 56.7 L33.0 57.5 L33.3 58.4 L33.5 59.4 L33.7 60.7 L33.9 62.1 L34.2 63.5 L34.4 64.9 L34.6 66.5 L34.7 67.4 L34.9 68.4 L35.0 69.3 L35.1 70.3 L35.2 71.3 L35.3 72.2 L35.4 73.2 L35.5 74.1 L35.6 75.1 L35.7 76.0 L35.8 77.0 L35.9 77.9 L36.0 78.9 L36.1 79.8 L36.1 80.8 L36.2 81.7 L36.3 82.7 L36.4 83.7 L36.4 84.6 L36.5 85.6 L36.6 86.5 L36.6 87.5 L36.7 88.4 L36.7 89.4 L36.8 90.4 L36.8 91.3 L36.9 92.3 L36.9 93.2 L37.0 94.2 L37.0 95.1 L37.1 96.1 L37.1 97.1 L37.2 98.0 L37.2 99.0 L37.2 99.9 L37.3 100.9 L37.3 101.9 L37.4 102.8 L37.4 103.8 L37.4 104.7 L37.5 105.7 L37.5 106.6 L37.6 107.6 L37.6 108.5 L37.6 109.5 L37.7 110.5 L37.7 111.4 L37.7 112.4 L37.8 113.3 L37.8 114.3 L37.9 115.2 L37.9 116.2 L37.9 117.1 L38.0 118.1 L38.0 119.1 L38.1 120.0 L38.1 121.0 L38.1 121.9 L38.2 122.9 L38.2 123.8 L38.3 124.8 L38.3 125.7 L38.3 126.7 L38.4 127.6 L38.4 128.6 L38.5 129.5 L38.5 130.5 L38.6 131.5 L38.6 132.4 L38.6 133.4 L38.7 134.3 L38.7 135.3 L38.8 136.2 L38.8 137.2 L38.9 138.1 L38.9 139.1 L38.9 140.1 L39.0 141.0 L39.0 142.0 L39.1 142.9 L39.1 143.9 L39.2 144.8 L39.2 145.8 L39.2 146.8 L39.3 147.7 L39.3 148.7 L39.4 149.6 L39.4 150.6 L39.5 151.6 L39.5 152.5 L39.6 153.5 L39.6 154.5 L39.6 155.4 L39.7 156.4 L39.7 157.3 L39.8 158.3 L39.8 159.3 L39.9 160.2 L39.9 161.2 L40.0 162.2 L40.0 163.1 L40.1 164.1 L40.1 165.1 L40.1 166.0 L40.2 167.0 L40.2 167.9 L40.3 168.9 L40.3 169.9 L40.4 170.8 L40.4 171.8 L40.5 172.8 L40.5 173.7 L40.5 174.7 L40.6 175.6 L40.6 176.6 L40.7 177.5 L40.7 178.5 L40.8 179.5 L40.8 180.4 L40.8 181.4 L40.9 182.3 L40.9 183.3 L41.0 184.2 L41.0 185.2 L41.0 186.1 L41.1 187.1 L41.1 188.0 L41.1 189.0 L41.2 189.9 L41.2 190.9 L41.3 191.8 L41.3 192.8 L41.3 193.7 L41.4 194.6 L41.4 195.6 L41.4 196.5 L41.5 197.4 L41.5 198.4 L41.5 199.3 L41.6 200.3 L41.6 201.2 L41.7 202.1 L41.8 203.1 L41.8 204.0 L41.9 205.0 L42.0 206.0 L42.2 207.0 L42.3 207.9 L42.5 208.9 L42.6 209.9 L42.9 211.0 L43.1 212.0 L43.3 213.0 L43.6 214.1 L43.9 215.1 L44.3 216.0 L44.7 216.7 L45.2 217.1 L45.7 217.2 L46.3 216.9 L46.9 216.3 L47.4 215.5 L47.9 214.7 L48.2 213.8 L48.5 212.8 L48.7 211.9 L49.0 210.9 L49.2 210.0 L49.4 209.0 L49.5 208.1 L49.7 207.1 L49.9 206.2 L50.1 205.2 L50.3 204.2 L50.5 203.3 L50.6 202.3 L50.8 201.4 L51.0 200.4 L51.1 199.5 L51.3 198.5 L51.4 197.6 L51.6 196.6 L51.7 195.7 L51.9 194.7 L52.0 193.8 L52.2 192.8 L52.3 191.9 L52.4 190.9 L52.6 190.0 L52.7 189.0 L52.8 188.1 L52.9 187.1 L53.0 186.2 L53.2 185.2 L53.3 184.3 L53.4 183.3 L53.5 182.4 L53.6 181.4 L53.7 180.5 L53.8 179.5 L53.9 178.6 L54.1 177.6 L54.2 176.7 L54.3 175.8 L54.4 174.8 L54.5 173.9 L54.6 172.9 L54.7 172.0 L54.7 171.0 L54.8 170.1 L54.9 169.1 L55.0 168.2 L55.1 167.2 L55.2 166.3 L55.3 165.3 L55.4 164.4 L55.5 163.4 L55.6 162.5 L55.7 161.5 L55.8 160.6 L55.9 159.6 L55.9 158.6 L56.0 157.7 L56.1 156.7 L56.2 155.8 L56.3 154.8 L56.4 153.9 L56.5 152.9 L56.6 152.0 L56.7 151.0 L56.8 150.1 L56.9 149.1 L57.0 148.1 L57.1 147.2 L57.2 146.2 L57.3 145.3 L57.4 144.3 L57.5 143.4 L57.6 142.4 L57.7 141.4 L57.8 140.5 L57.9 139.5 L58.0 138.6 L58.1 137.6 L58.2 136.7 L58.3 135.7 L58.4 134.8 L58.6 133.8 L58.7 132.9 L58.8 131.9 L58.9 130.9 L59.0 130.0 L59.2 129.0 L59.3 128.1 L59.4 127.1 L59.6 126.2 L59.7 125.2 L59.8 124.3 L60.0 123.3 L60.1 122.4 L60.3 121.4 L60.4 120.5 L60.6 119.5 L60.7 118.6 L60.9 117.7 L61.0 116.7 L61.2 115.8 L61.4 114.8 L61.5 113.9 L61.7 112.9 L61.9 112.0 L62.1 111.1 L62.2 110.1 L62.4 109.2 L62.6 108.2 L62.8 107.3 L63.0 106.4 L63.2 105.4 L63.4 104.5 L63.6 103.6 L63.8 102.6 L64.1 101.7 L64.3 100.8 L64.5 99.9 L64.7 98.9 L65.0 98.0 L65.2 97.1 L65.5 96.2 L65.8 95.3 L66.1 94.4 L66.4 93.5 L66.7 92.6 L67.1 91.7 L67.5 90.8 L67.9 89.9 L68.3 89.1 L68.8 88.2 L69.3 87.4 L69.8 86.6 L70.4 85.8 L71.1 85.0 L71.7 84.3 L72.4 83.7 L73.2 83.1 L74.0 82.6 L74.9 82.2 L75.8 81.8 L76.7 81.5 L77.6 81.3 L78.6 81.1 L79.6 81.0 L80.6 80.9 L81.5 80.9 L82.5 80.9 L83.5 81.0 L84.4 81.2 L85.4 81.4 L86.3 81.7 L87.2 82.0 L88.0 82.3 L88.9 82.7 L89.7 83.1 L90.5 83.6 L91.3 84.1 L92.0 84.6 L92.8 85.2 L93.5 85.8 L94.2 86.5 L94.9 87.1 L95.5 87.8 L96.2 88.5 L96.8 89.2 L97.4 90.0 L98.0 90.7 L98.6 91.5 L99.2 92.3 L99.8 93.1 L100.3 93.9 L100.9 94.7 L101.4 95.5 L101.9 96.4 L102.5 97.2 L103.0 98.0 L103.5 98.8 L104.0 99.7 L104.4 100.5 L104.9 101.4 L105.4 102.2 L105.8 103.1 L106.3 103.9 L106.7 104.8 L107.1 105.6 L107.5 106.5 L108.0 107.4 L108.4 108.2 L108.8 109.1 L109.2 110.0 L109.5 110.9 L109.9 111.7 L110.3 112.6 L110.7 113.5 L111.0 114.4 L111.4 115.3 L111.7 116.2 L112.1 117.1 L112.4 118.0 L112.7 118.9 L113.1 119.8 L113.4 120.7 L113.7 121.6 L114.0 122.5 L114.3 123.4 L114.6 124.3 L114.9 125.2 L115.2 126.1 L115.5 127.0 L115.8 127.9 L116.1 128.8 L116.4 129.7 L116.7 130.7 L117.0 131.6 L117.2 132.5 L117.5 133.4 L117.8 134.3 L118.1 135.2 L118.3 136.2 L118.6 137.1 L118.9 138.0 L119.1 138.9 L119.4 139.8 L119.7 140.8 L119.9 141.7 L120.2 142.6 L120.4 143.5 L120.7 144.4 L121.0 145.4 L121.2 146.3 L121.5 147.2 L121.7 148.1 L122.0 149.1 L122.2 150.0 L122.5 150.9 L122.7 151.8 L123.0 152.7 L123.2 153.7 L123.5 154.6 L123.7 155.5 L124.0 156.4 L124.2 157.4 L124.5 158.3 L124.7 159.2 L125.0 160.1 L125.2 161.0 L125.5 162.0 L125.7 162.9 L126.0 163.8 L126.2 164.7 L126.5 165.7 L126.7 166.6 L127.0 167.5 L127.2 168.4 L127.4 169.4 L127.7 170.3 L127.9 171.2 L128.2 172.1 L128.4 173.1 L128.7 174.0 L128.9 174.9 L129.2 175.8 L129.4 176.8 L129.7 177.7 L129.9 178.6 L130.1 179.5 L130.4 180.5 L130.6 181.4 L130.9 182.3 L131.1 183.2 L131.4 184.2 L131.6 185.1 L131.9 186.0 L132.1 187.0 L132.4 187.9 L132.6 188.8 L132.9 189.7 L133.1 190.7 L133.4 191.6 L133.6 192.5 L133.9 193.4 L134.1 194.4 L134.4 195.3 L134.6 196.2 L134.9 197.2 L135.2 198.1 L135.4 199.0 L135.7 200.0 L135.9 200.9 L136.2 201.8 L136.5 202.7 L136.7 203.7 L137.0 204.6 L137.2 205.5 L137.5 206.5 L137.8 207.4 L138.0 208.3 L138.3 209.3 L138.6 210.2 L138.9 211.1 L139.2 212.0 L139.5 212.9 L139.8 213.8 L140.1 214.7 L140.5 215.6 L140.8 216.5 L141.1 217.4 L141.5 218.3 L141.9 219.2 L142.3 220.0 L142.7 220.9 L143.1 221.7 L143.6 222.6 L144.0 223.4 L144.5 224.2 L145.0 225.0 L145.5 225.8 L146.1 226.6 L146.7 227.3 L147.2 228.1 L147.9 228.8 L148.5 229.5 L149.2 230.2 L149.9 230.9 L150.6 231.6 L151.3 232.2 L152.1 232.8 L152.9 233.4 L153.7 233.9 L154.5 234.3 L155.4 234.7 L156.3 235.1 L157.2 235.4 L158.1 235.6 L159.0 235.8 L160.0 235.9 L160.9 236.0 L161.9 236.1 L162.9 236.2 L163.9 236.2 L164.8 236.2 L165.8 236.3 L166.8 236.3 L167.8 236.3 L168.8 236.3 L169.8 236.4 L170.7 236.4 L171.7 236.5 L172.6 236.6 L173.5 236.8 L174.5 237.0 L175.3 237.2 L350.5 237.2"/>
</g>
<path d="M73.20 54.2 V237.20" stroke="#000" stroke-width="1.6" stroke-dasharray="4.15 1.45" fill="none"/>
<g stroke="#000" stroke-opacity="0.78" stroke-width="1" fill="none">
<path d="M21.50 33.2 V237.50 H350.6"/>
</g>
<g stroke="#000" stroke-opacity="0.6" stroke-width="0.9" fill="none">
<path d="M30.90 237.00 v-2.0 M40.30 237.00 v-2.0 M49.70 237.00 v-2.0 M59.10 237.00 v-2.0 M68.50 237.00 v-3.3 M77.90 237.00 v-2.0 M87.30 237.00 v-2.0 M96.70 237.00 v-2.0 M106.10 237.00 v-2.0 M115.50 237.00 v-3.3 M124.90 237.00 v-2.0 M134.30 237.00 v-2.0 M143.70 237.00 v-2.0 M153.10 237.00 v-2.0 M162.50 237.00 v-3.3 M171.90 237.00 v-2.0 M181.30 237.00 v-2.0 M190.70 237.00 v-2.0 M200.10 237.00 v-2.0 M209.50 237.00 v-3.3 M218.90 237.00 v-2.0 M228.30 237.00 v-2.0 M237.70 237.00 v-2.0 M247.10 237.00 v-2.0 M256.50 237.00 v-3.3 M265.90 237.00 v-2.0 M275.30 237.00 v-2.0 M284.70 237.00 v-2.0 M294.10 237.00 v-2.0 M303.50 237.00 v-3.3 M312.90 237.00 v-2.0 M322.30 237.00 v-2.0 M331.70 237.00 v-2.0 M341.10 237.00 v-2.0 M350.50 237.00 v-3.3 M22.00 227.97 h1.9 M22.00 218.74 h1.9 M22.00 209.51 h1.9 M22.00 200.28 h3.0 M22.00 191.05 h1.9 M22.00 181.82 h1.9 M22.00 172.59 h1.9 M22.00 163.36 h3.0 M22.00 154.13 h1.9 M22.00 144.90 h1.9 M22.00 135.67 h1.9 M22.00 126.44 h3.0 M22.00 117.21 h1.9 M22.00 107.98 h1.9 M22.00 98.75 h1.9 M22.00 89.52 h3.0 M22.00 80.29 h1.9 M22.00 71.06 h1.9 M22.00 61.83 h1.9 M22.00 52.60 h3.0 M22.00 43.37 h1.9 M22.00 34.14 h1.9"/>
</g>
<path d="M96.60 52.10 L81.80 63.56" stroke="#000" stroke-width="1.5" fill="none"/>
<path d="M73.10 70.30 L80.58 59.70 L81.80 63.56 L85.23 65.71 Z" fill="#000"/>
<g font-family="Liberation Sans, sans-serif" fill="#000" stroke="#000" stroke-width="0.25" stroke-linejoin="round" text-rendering="geometricPrecision">
<text transform="translate(2.40 22.40) scale(1 1.040)" font-size="20.9">ELF</text>
<text transform="translate(102.60 56.70) scale(1 1.030)" font-size="13.6" letter-spacing="0.2">VASP cut−off</text>
<text transform="translate(18.90 241.80) scale(1 1.020)" font-size="13.6" text-anchor="end">0.0</text>
<text transform="translate(18.90 204.88) scale(1 1.020)" font-size="13.6" text-anchor="end">0.2</text>
<text transform="translate(18.90 167.96) scale(1 1.020)" font-size="13.6" text-anchor="end">0.4</text>
<text transform="translate(18.90 131.04) scale(1 1.020)" font-size="13.6" text-anchor="end">0.6</text>
<text transform="translate(18.90 94.12) scale(1 1.020)" font-size="13.6" text-anchor="end">0.8</text>
<text transform="translate(18.90 57.20) scale(1 1.020)" font-size="13.6" text-anchor="end">1.0</text>
<text transform="translate(21.50 253.00) scale(1 1.020)" font-size="13.6" text-anchor="middle">0</text>
<text transform="translate(68.50 253.00) scale(1 1.020)" font-size="13.6" text-anchor="middle">1</text>
<text transform="translate(115.50 253.00) scale(1 1.020)" font-size="13.6" text-anchor="middle">2</text>
<text transform="translate(162.50 253.00) scale(1 1.020)" font-size="13.6" text-anchor="middle">3</text>
<text transform="translate(209.50 253.00) scale(1 1.020)" font-size="13.6" text-anchor="middle">4</text>
<text transform="translate(256.50 253.00) scale(1 1.020)" font-size="13.6" text-anchor="middle">5</text>
<text transform="translate(303.50 253.00) scale(1 1.020)" font-size="13.6" text-anchor="middle">6</text>
<text transform="translate(350.50 253.00) scale(1 1.020)" font-size="13.6" text-anchor="middle">7</text>
<text transform="translate(355.80 244.10) scale(1 1.040)" font-size="21">r (a<tspan font-size="15" dy="4.2">0</tspan><tspan dy="-4.2">)</tspan></text>
<path d="M414.1 66.15 H428.1" stroke="#1a1a1a" stroke-width="1.6" fill="none"/>
<text transform="translate(433.80 69.40) scale(1 0.970)" font-size="20.5" font-style="italic">ω</text>
<text transform="translate(455.73 68.90) scale(1 1.040)" font-size="20.9"><tspan dy="1.6">=</tspan><tspan dy="-1.6"> 0 u.a.</tspan></text>
<path d="M414.1 99.65 H428.1" stroke="#ff8000" stroke-width="1.6" fill="none"/>
<text transform="translate(433.80 102.85) scale(1 0.970)" font-size="20.5" font-style="italic">ω</text>
<text transform="translate(455.73 102.35) scale(1 1.040)" font-size="20.9"><tspan dy="1.6">=</tspan><tspan dy="-1.6"> 0.100 u.a.</tspan></text>
<path d="M414.1 133.15 H428.1" stroke="#00ff00" stroke-width="1.6" fill="none"/>
<text transform="translate(433.80 136.30) scale(1 0.970)" font-size="20.5" font-style="italic">ω</text>
<text transform="translate(455.73 135.80) scale(1 1.040)" font-size="20.9"><tspan dy="1.6">=</tspan><tspan dy="-1.6"> 0.316 u.a.</tspan></text>
<path d="M414.1 166.65 H428.1" stroke="#ff0000" stroke-width="1.6" fill="none"/>
<text transform="translate(433.80 169.75) scale(1 0.970)" font-size="20.5" font-style="italic">ω</text>
<text transform="translate(448.60 173.15) scale(1 1.000)" font-size="15.4">ion</text>
<text transform="translate(475.73 169.25) scale(1 1.040)" font-size="20.9"><tspan dy="1.6">=</tspan><tspan dy="-1.6"> 0.462 u.a.</tspan></text>
<path d="M414.1 200.15 H428.1" stroke="#0000ff" stroke-width="1.6" fill="none"/>
<text transform="translate(433.80 203.20) scale(1 0.970)" font-size="20.5" font-style="italic">ω</text>
<text transform="translate(455.73 202.70) scale(1 1.040)" font-size="20.9"><tspan dy="1.6">=</tspan><tspan dy="-1.6"> 1.00 u.a.</tspan></text>
</g>
</svg>
</body></html>
